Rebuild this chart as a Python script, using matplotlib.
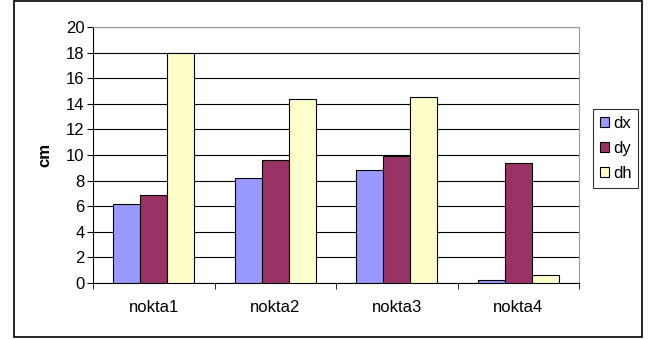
import numpy as np
import matplotlib
matplotlib.use("Agg")
import matplotlib.pyplot as plt
from matplotlib.patches import Rectangle

plt.rcParams['font.family'] = ['Liberation Sans', 'DejaVu Sans']

# data
categories = ['nokta1', 'nokta2', 'nokta3', 'nokta4']
dx = [6.2, 8.2, 8.8, 0.25]
dy = [6.9, 9.6, 9.9, 9.35]
dh = [18.0, 14.4, 14.5, 0.6]
series_names = ['dx', 'dy', 'dh']
colors = ['#9999FF', '#993366', '#FFFFCC']

fs = 12

fig = plt.figure(figsize=(6.55, 3.4), dpi=100)
# outer chart border
fig.patches.append(Rectangle((14/655, 3/340), 628/655, 336/340, transform=fig.transFigure,
                             fill=False, edgecolor='black', linewidth=1.2))
ax = fig.add_axes([93/655, 1 - 283/340, 486/655, 256/340])

x = np.arange(len(categories))
w = 0.222
for i, (vals, name, col) in enumerate(zip([dx, dy, dh], series_names, colors)):
    ax.bar(x + (i - 1) * w, vals, w, color=col, edgecolor='black', linewidth=0.8,
           label=name, zorder=3)

ax.set_xlim(-0.5, len(categories) - 0.5)
ax.set_ylim(0, 20)
ax.set_yticks(np.arange(0, 21, 2))
ax.yaxis.grid(True, color='black', linewidth=0.8, zorder=0)
ax.set_axisbelow(True)

ax.set_xticks(x)
ax.set_xticklabels(categories)
ax.set_xticks(np.arange(-0.5, len(categories), 1), minor=True)
ax.tick_params(axis='x', which='major', length=0, pad=12, labelsize=fs)
ax.tick_params(axis='x', which='minor', length=4, direction='out', color='black')
ax.tick_params(axis='y', length=4, direction='out', labelsize=fs, pad=2)

for s in ['left', 'bottom']:
    ax.spines[s].set_color('black')
for s in ['top', 'right']:
    ax.spines[s].set_color('#999999')

ax.set_ylabel('cm', fontweight='bold', fontsize=fs, labelpad=10)

leg = ax.legend(loc='center left', bbox_to_anchor=((593 - 93) / 486, 0.525), frameon=True,
                fancybox=False, edgecolor='black', fontsize=fs, handlelength=0.55,
                handleheight=0.55, handletextpad=0.25, borderpad=0.4, labelspacing=0.6,
                borderaxespad=0)
leg.get_frame().set_linewidth(0.8)

fig.savefig('out.png', dpi=100)
